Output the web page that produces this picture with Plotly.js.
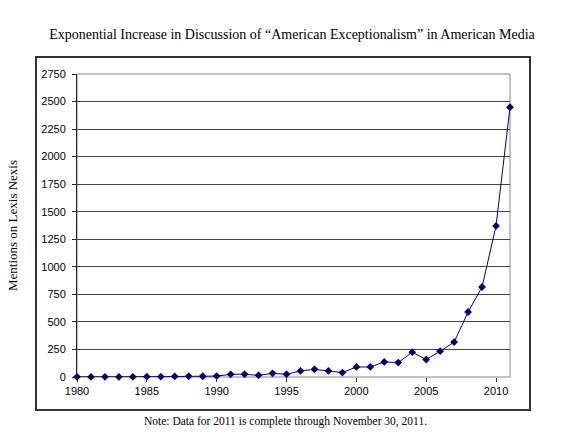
<!DOCTYPE html>
<html>
<head>
<meta charset="utf-8">
<script src="https://cdn.plot.ly/plotly-3.0.1.min.js"></script>
<style>
html,body{margin:0;padding:0;background:#fff;}
#chart{width:584px;height:442px;}
</style>
</head>
<body>
<div id="chart"></div>
<script>
const years = [1980,1981,1982,1983,1984,1985,1986,1987,1988,1989,1990,1991,1992,1993,1994,1995,1996,1997,1998,1999,2000,2001,2002,2003,2004,2005,2006,2007,2008,2009,2010,2011];
const mentions = [2,1,2,1,2,3,3,6,7,7,8,24,25,15,33,25,55,70,55,40,91,91,137,131,225,159,234,317,590,817,1371,2448];
const xTickVals = [1980,1985,1990,1995,2000,2005,2010];
const chartTitle = "Exponential Increase in Discussion of \u201cAmerican Exceptionalism\u201d in American Media";
const yTitle = "Mentions on Lexis Nexis";
const note = "Note: Data for 2011 is complete through November 30, 2011.";

const W = 584, H = 442;
const m = {l:77, r:74, t:74, b:65};
const pw = W - m.l - m.r, ph = H - m.t - m.b;
const px = v => (v - m.l) / pw;
const py = v => (H - m.b - v) / ph;

const trace = {
  x: years, y: mentions, type: 'scatter', mode: 'lines+markers',
  line: {color: '#000080', width: 1},
  marker: {symbol: 'diamond', size: 6, color: '#000080'},
  cliponaxis: false,
  hoverinfo: 'x+y'
};

const layout = {
  width: W, height: H,
  margin: m,
  paper_bgcolor: '#fff', plot_bgcolor: '#fff',
  showlegend: false,
  title: {text: chartTitle, x: 0.5, xref: 'container', y: 1 - 34/H, yref: 'container', yanchor: 'middle',
          font: {family: '"Liberation Serif", "Times New Roman", serif', size: 14, color: '#000'}},
  xaxis: {
    range: [1980, 2011], tickvals: xTickVals, ticktext: xTickVals.map(String),
    showgrid: false, zeroline: false, showline: false,
    ticks: 'outside', ticklen: 4, tickcolor: '#333',
    tickfont: {family: '"Liberation Sans", Arial, sans-serif', size: 11, color: '#000'}
  },
  yaxis: {
    range: [0, 2750], dtick: 250, tick0: 0,
    showgrid: true, gridcolor: '#444', gridwidth: 1,
    zeroline: false, showline: true, linecolor: '#222', linewidth: 1,
    ticks: 'outside', ticklen: 4, tickcolor: '#222',
    ticklabelstandoff: 4,
    tickfont: {family: '"Liberation Sans", Arial, sans-serif', size: 11, color: '#000'},
    title: {text: yTitle, standoff: 20,
            font: {family: '"Liberation Serif", "Times New Roman", serif', size: 13, color: '#000'}}
  },
  shapes: [
    {type: 'rect', xref: 'paper', yref: 'paper', x0: 0, x1: 1, y0: 0, y1: 1,
     line: {color: '#888', width: 1}, layer: 'below'},
    {type: 'rect', xref: 'paper', yref: 'paper', x0: px(36), x1: px(530), y0: py(410), y1: py(57),
     line: {color: '#333', width: 2}}
  ],
  annotations: [
    {text: note, xref: 'paper', yref: 'paper', x: px(285), y: py(421), xanchor: 'center', yanchor: 'middle',
     showarrow: false, font: {family: '"Liberation Serif", "Times New Roman", serif', size: 11.5, color: '#000'}}
  ]
};

Plotly.newPlot('chart', [trace], layout, {displayModeBar: false, responsive: false});
</script>
</body>
</html>
